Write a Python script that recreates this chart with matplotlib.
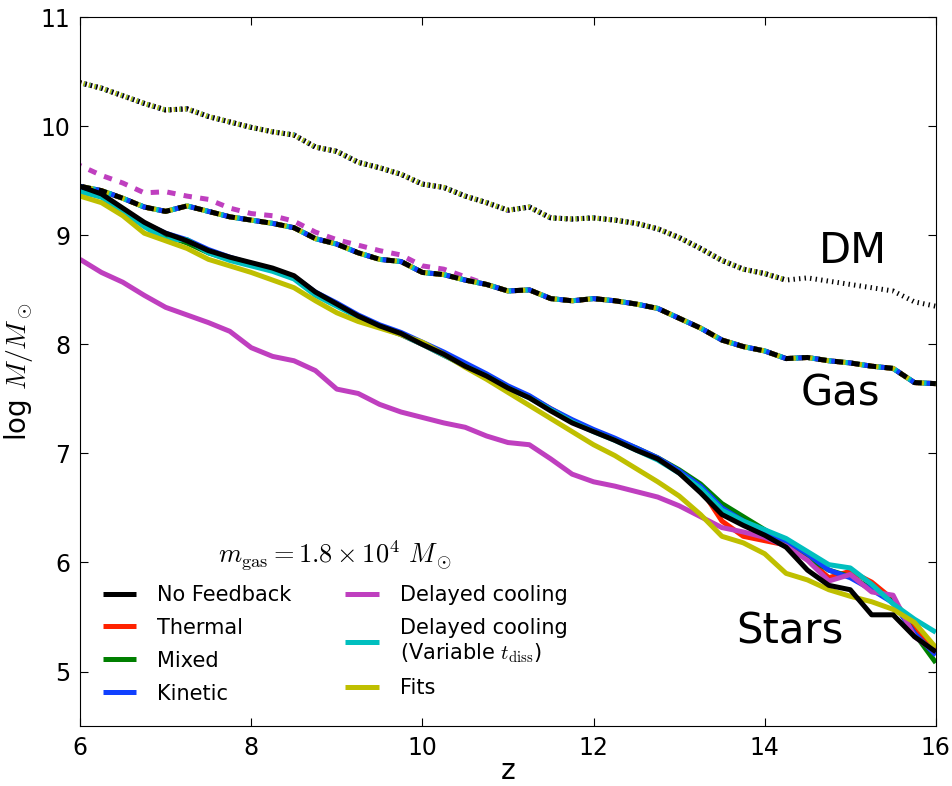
import matplotlib
matplotlib.use("Agg")
import matplotlib.pyplot as plt
import numpy as np

plt.rcParams['mathtext.fontset'] = 'cm'
plt.rcParams['lines.scale_dashes'] = False

# redshift grid
z = np.arange(6.0, 16.01, 0.25)

# stellar mass, log M/Msun
stars_nofb = [9.45, 9.38, 9.25, 9.12, 9.02, 8.95, 8.86, 8.80, 8.75, 8.70,
              8.63, 8.48, 8.37, 8.26, 8.17, 8.10, 8.00, 7.91, 7.80, 7.71,
              7.60, 7.51, 7.39, 7.28, 7.20, 7.12, 7.03, 6.95, 6.82, 6.64,
              6.44, 6.34, 6.25, 6.14, 5.93, 5.79, 5.75, 5.52, 5.52, 5.32, 5.18]
stars_thermal = [9.43, 9.36, 9.24, 9.10, 9.01, 8.94, 8.85, 8.79, 8.74, 8.69,
                 8.62, 8.47, 8.37, 8.26, 8.17, 8.09, 8.00, 7.90, 7.81, 7.72,
                 7.61, 7.52, 7.41, 7.30, 7.21, 7.13, 7.04, 6.95, 6.84, 6.68,
                 6.38, 6.24, 6.20, 6.16, 6.03, 5.86, 5.92, 5.82, 5.66, 5.40, 5.20]
stars_mixed = [9.42, 9.36, 9.23, 9.10, 9.00, 8.93, 8.84, 8.78, 8.73, 8.68,
               8.61, 8.47, 8.36, 8.26, 8.17, 8.10, 8.01, 7.91, 7.81, 7.72,
               7.61, 7.52, 7.40, 7.30, 7.21, 7.13, 7.05, 6.96, 6.85, 6.72,
               6.54, 6.42, 6.30, 6.18, 6.05, 5.93, 5.87, 5.76, 5.64, 5.35, 5.08]
stars_kinetic = [9.44, 9.37, 9.24, 9.11, 9.02, 8.96, 8.87, 8.80, 8.74, 8.69,
                 8.62, 8.48, 8.38, 8.27, 8.18, 8.11, 8.02, 7.93, 7.83, 7.73,
                 7.62, 7.53, 7.41, 7.31, 7.22, 7.14, 7.05, 6.96, 6.84, 6.70,
                 6.50, 6.38, 6.28, 6.20, 6.08, 5.93, 5.86, 5.75, 5.63, 5.35, 5.15]
stars_delayed = [8.78, 8.66, 8.57, 8.45, 8.34, 8.27, 8.20, 8.12, 7.97, 7.89,
                 7.85, 7.76, 7.59, 7.55, 7.45, 7.38, 7.33, 7.28, 7.24, 7.16,
                 7.10, 7.08, 6.95, 6.81, 6.74, 6.70, 6.65, 6.60, 6.52, 6.42,
                 6.32, 6.28, 6.23, 6.15, 6.02, 5.83, 5.89, 5.73, 5.70, 5.32, 5.18]
stars_delayed_var = [9.40, 9.35, 9.22, 9.08, 8.96, 8.96, 8.84, 8.77, 8.72, 8.67,
                     8.60, 8.45, 8.35, 8.25, 8.16, 8.09, 8.00, 7.90, 7.80, 7.71,
                     7.60, 7.51, 7.40, 7.29, 7.20, 7.12, 7.03, 6.94, 6.82, 6.68,
                     6.48, 6.38, 6.30, 6.22, 6.10, 5.98, 5.95, 5.80, 5.62, 5.48, 5.36]
stars_fits = [9.36, 9.30, 9.18, 9.02, 8.95, 8.88, 8.78, 8.72, 8.66, 8.59,
              8.52, 8.40, 8.29, 8.21, 8.15, 8.09, 8.02, 7.91, 7.79, 7.68,
              7.56, 7.44, 7.32, 7.20, 7.08, 6.98, 6.86, 6.74, 6.61, 6.44,
              6.24, 6.18, 6.08, 5.90, 5.84, 5.75, 5.69, 5.64, 5.57, 5.45, 5.22]

# gas mass
gas_common = [9.45, 9.41, 9.34, 9.26, 9.22, 9.27, 9.22, 9.17, 9.14, 9.11,
              9.07, 8.97, 8.92, 8.84, 8.78, 8.76, 8.66, 8.64, 8.59, 8.55,
              8.49, 8.50, 8.42, 8.40, 8.42, 8.40, 8.37, 8.33, 8.24, 8.15,
              8.04, 7.98, 7.94, 7.87, 7.88, 7.85, 7.83, 7.80, 7.78, 7.65, 7.64]
gas_delayed = [9.64, 9.55, 9.48, 9.39, 9.40, 9.36, 9.33, 9.25, 9.20, 9.18,
               9.13, 9.03, 8.96, 8.91, 8.86, 8.82, 8.72, 8.69, 8.62, 8.55,
               8.49, 8.50, 8.42, 8.40, 8.42, 8.40, 8.37, 8.33, 8.24, 8.15,
               8.04, 7.98, 7.94, 7.87, 7.88, 7.85, 7.83, 7.80, 7.78, 7.65, 7.64]

# dark matter mass
dm_common = [10.40, 10.35, 10.28, 10.21, 10.15, 10.16, 10.09, 10.04, 9.99, 9.95,
             9.92, 9.81, 9.77, 9.67, 9.62, 9.56, 9.47, 9.44, 9.36, 9.30,
             9.23, 9.26, 9.16, 9.15, 9.16, 9.14, 9.11, 9.06, 8.98, 8.88,
             8.77, 8.69, 8.65, 8.59, 8.61, 8.58, 8.55, 8.52, 8.49, 8.39, 8.35]
dm_zmax_runs = 14.3  # feedback runs stop here

labels = ['No Feedback', 'Thermal', 'Mixed', 'Kinetic', 'Delayed cooling',
          'Delayed cooling\n(Variable $t_{\\rm diss}$)', 'Fits']
colors = ['k', '#ff2200', '#007f00', '#1040ff', '#bf3fbf', '#00bfbf', '#bfbf00']
stars = [stars_nofb, stars_thermal, stars_mixed, stars_kinetic,
         stars_delayed, stars_delayed_var, stars_fits]
gas = [gas_common, gas_common, gas_common, gas_common,
       gas_delayed, gas_common, gas_common]

fig = plt.figure(figsize=(9.53, 7.86), dpi=100)
ax = fig.add_axes([0.084, 0.0763, 0.898, 0.9017])

lw = 3.6
order = [1, 2, 3, 4, 5, 6, 0]
handles = {}
dm = np.array(dm_common)
for k, i in enumerate(order):
    c = colors[i]
    h, = ax.plot(z, stars[i], color=c, lw=lw, solid_capstyle='butt')
    handles[i] = h
    ax.plot(z, gas[i], color=c, lw=lw, dash_capstyle='butt',
            linestyle=(1.7 * k, (6, 6)))
    if i == 0:
        ax.plot(z, dm, color=c, lw=lw, dash_capstyle='butt',
                linestyle=(0, (1, 3)))
    else:
        m = z <= dm_zmax_runs
        ax.plot(z[m], dm[m], color=c, lw=lw, dash_capstyle='butt',
                linestyle=(0.25 * k + 0.25, (1, 3)))

ax.text(15.03, 8.86, 'DM', fontsize=30, ha='center', va='center')
ax.text(14.89, 7.55, 'Gas', fontsize=30, ha='center', va='center')
ax.text(14.29, 5.37, 'Stars', fontsize=30, ha='center', va='center')

ax.set_xlim(6, 16)
ax.set_ylim(4.5, 11)
ax.set_xticks([6, 8, 10, 12, 14, 16])
ax.set_yticks([5, 6, 7, 8, 9, 10, 11])
ax.tick_params(direction='in', length=6, labelsize=17, top=True, right=True, pad=7)
ax.set_xlabel('z', fontsize=20, labelpad=-2)
ax.set_ylabel(r'log $M/M_\odot$', fontsize=20, labelpad=4)

leg = ax.legend([handles[i] for i in range(7)], labels, ncol=2, frameon=False,
                loc='lower left', bbox_to_anchor=(0.012, 0.014),
                fontsize=15, handlelength=1.6, labelspacing=0.62,
                handletextpad=1.0, columnspacing=2.6, borderaxespad=0.2,
                title=r'$m_{\rm gas} = 1.8\times10^4\ M_\odot$',
                title_fontsize=19)

fig.savefig('out.png', dpi=100)
